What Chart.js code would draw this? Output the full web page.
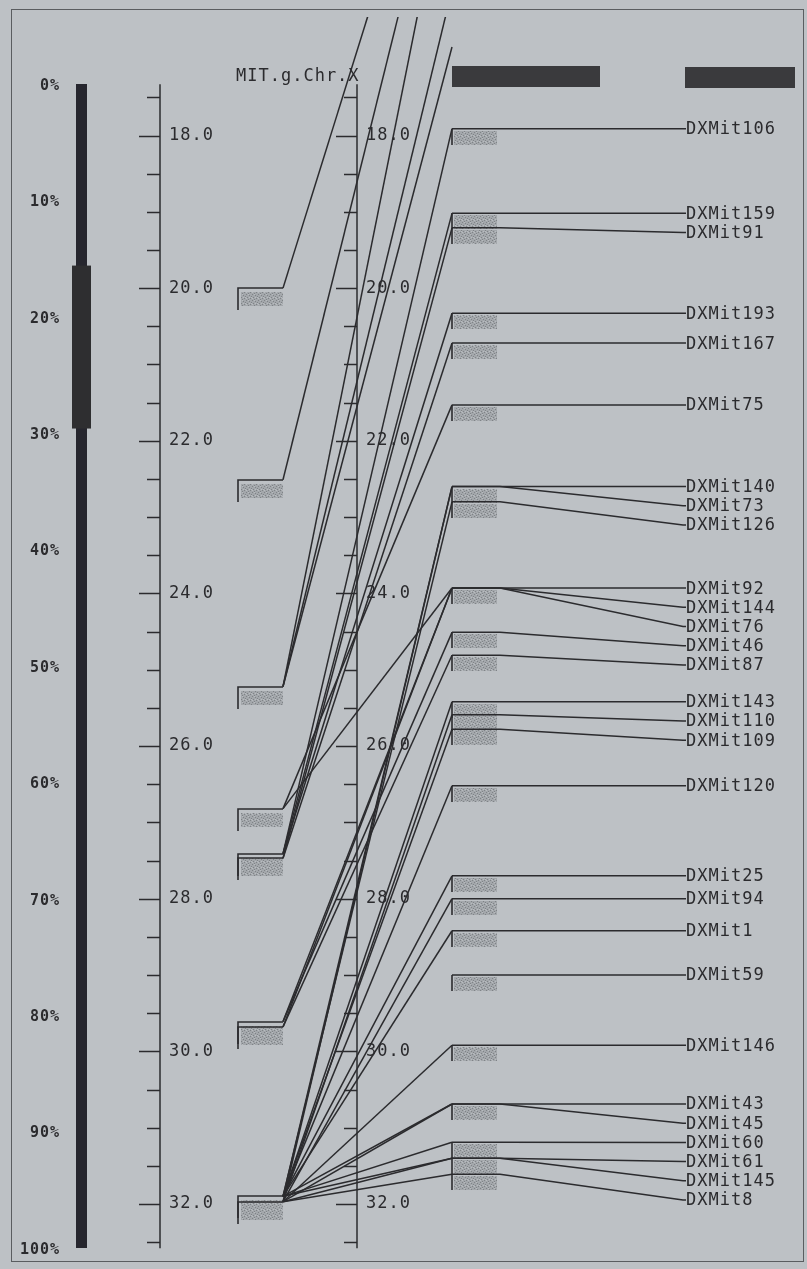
<!DOCTYPE html>
<html><head><meta charset="utf-8">
<script src="https://cdn.jsdelivr.net/npm/chart.js@4.4.0/dist/chart.umd.min.js"></script>
<style>html,body{margin:0;padding:0;background:#bdc1c5;}#wrap{width:807px;height:1269px;}</style>
</head><body><div id="wrap"><canvas id="c" width="807" height="1269"></canvas></div>
<script>
// ---------------- DATA ----------------
const mapTitle = 'MIT.g.Chr.X';
const markerNames = ['DXMit106','DXMit159','DXMit91','DXMit193','DXMit167','DXMit75','DXMit140','DXMit73','DXMit126',
  'DXMit92','DXMit144','DXMit76','DXMit46','DXMit87','DXMit143','DXMit110','DXMit109','DXMit120','DXMit25','DXMit94',
  'DXMit1','DXMit59','DXMit146','DXMit43','DXMit45','DXMit60','DXMit61','DXMit145','DXMit8'];
// position on the MIT map (right column), cM
const rightPos = [17.91,19.02,19.21,20.33,20.72,21.53,22.60,22.60,22.80,
  23.93,23.93,23.93,24.51,24.81,25.42,25.59,25.78,26.52,27.70,28.00,
  28.42,29.00,29.92,30.69,30.69,31.19,31.40,31.40,31.61];
// position of the same marker on the left map, cM (null = not placed)
const leftPos = [27.41,27.41,27.47,27.41,27.47,26.82,31.90,31.97,31.90,
  26.82,29.61,29.68,29.61,29.68,31.90,31.97,31.90,31.90,31.90,31.97,
  31.90,null,31.97,31.90,31.97,31.90,31.97,31.90,31.97];
// markers of the left map that lie above the shown part of the MIT map
const offLeftPos  = [20.00,22.51,25.22,25.22,25.22];
const offRightPos = [12.90,13.60,14.17,16.09,16.84];
const cmTickValues = [17.5,18.0,18.5,19.0,19.5,20.0,20.5,21.0,21.5,22.0,22.5,23.0,23.5,24.0,24.5,25.0,
  25.5,26.0,26.5,27.0,27.5,28.0,28.5,29.0,29.5,30.0,30.5,31.0,31.5,32.0,32.5];
const cmLabelValues = [18,20,22,24,26,28,30,32];
const cmAxisRange = [17.33,32.58];
const pctLabels = [0,10,20,30,40,50,60,70,80,90,100];
const pctShownRange = [15.6,29.6];

// ---------------- LAYOUT ----------------
const L = {
  pctBar: 81, pctLabelRight: 60,
  leftAxis: 160, leftBoxL: 238, leftBoxR: 283,
  rightAxis: 357, rightBoxL: 452, rightBoxR: 497,
  bend: 500, labelEnd: 683, labelText: 686,
  head1: [452,600], head2: [685,795],
  labelGapPx: 19.2
};
const INK = '#2b2b2e';
const FONT = '17px "DejaVu Sans Mono", "Liberation Mono", monospace';

// pixel spacing -> cM spacing (scale is 76.32 px per cM)
const gapCm = L.labelGapPx / 76.32;
const labelVals = [];
rightPos.forEach((r, i) => {
  labelVals.push(i === 0 ? r : Math.max(r, labelVals[i - 1] + gapCm));
});

const datasets = [];
// connections left map -> MIT map
markerNames.forEach((n, i) => {
  if (leftPos[i] === null) return;
  datasets.push({ data: [{x: L.leftBoxR, y: leftPos[i]}, {x: L.rightBoxL, y: rightPos[i]}] });
});
offLeftPos.forEach((l, i) => {
  datasets.push({ data: [{x: L.leftBoxR, y: l}, {x: L.rightBoxL, y: offRightPos[i]}] });
});
// label leaders
markerNames.forEach((n, i) => {
  datasets.push({ data: [{x: L.rightBoxL, y: rightPos[i]}, {x: L.bend, y: rightPos[i]},
    {x: L.labelEnd, y: labelVals[i]}, {x: L.labelText, y: labelVals[i]}] });
});
datasets.forEach(d => Object.assign(d, {
  type: 'line', borderColor: INK, borderWidth: 1.5, pointRadius: 0, tension: 0,
  yAxisID: 'cm', xAxisID: 'x', fill: false
}));

// stipple pattern for bins
function makePattern(ctx) {
  const c = document.createElement('canvas'); c.width = 6; c.height = 6;
  const g = c.getContext('2d');
  g.fillStyle = '#a3a7ab'; g.fillRect(0, 0, 6, 6);
  g.fillStyle = '#7f8387';
  [[0,0],[3,1],[1,3],[4,4],[5,2],[2,5]].forEach(p => g.fillRect(p[0], p[1], 1, 1));
  g.fillStyle = '#b8bcc0';
  [[2,0],[5,3],[0,4],[3,3]].forEach(p => g.fillRect(p[0], p[1], 1, 1));
  return ctx.createPattern(c, 'repeat');
}

const mapPlugin = {
  id: 'mapPlugin',
  beforeDraw(chart) {
    const ctx = chart.ctx;
    ctx.save();
    ctx.fillStyle = '#bdc1c5';
    ctx.fillRect(0, 0, chart.width, chart.height);
    ctx.strokeStyle = '#5a5d60'; ctx.lineWidth = 1;
    ctx.strokeRect(11.5, 9.5, 792, 1252);
    ctx.restore();
  },
  beforeDatasetsDraw(chart) {
    const ctx = chart.ctx, xs = chart.scales.x, ys = chart.scales.cm, ps = chart.scales.pct;
    const X = v => xs.getPixelForValue(v), Y = v => ys.getPixelForValue(v), P = v => ps.getPixelForValue(v);
    ctx.save();
    // percent bar
    const bx = X(L.pctBar);
    ctx.fillStyle = '#26262e';
    ctx.fillRect(bx - 5, P(0), 11, P(100) - P(0));
    ctx.fillStyle = '#2e2e30';
    ctx.fillRect(bx - 9, P(pctShownRange[0]), 19, P(pctShownRange[1]) - P(pctShownRange[0]));
    // axes
    ctx.strokeStyle = INK; ctx.lineWidth = 1.5;
    [L.leftAxis, L.rightAxis].forEach(ax => {
      const x = X(ax);
      ctx.beginPath(); ctx.moveTo(x, Y(cmAxisRange[0])); ctx.lineTo(x, Y(cmAxisRange[1])); ctx.stroke();
      cmTickValues.forEach(t => {
        const major = cmLabelValues.includes(t);
        const y = Math.round(Y(t)) + 0.5;
        ctx.beginPath(); ctx.moveTo(x, y); ctx.lineTo(x - (major ? 21 : 13), y); ctx.stroke();
      });
    });
    // header bars
    ctx.fillStyle = '#3a3a3d';
    ctx.fillRect(X(L.head1[0]), 66, X(L.head1[1]) - X(L.head1[0]), 21);
    ctx.fillRect(X(L.head2[0]), 67, X(L.head2[1]) - X(L.head2[0]), 21);
    // bins
    const pat = makePattern(ctx);
    const leftBins = [...new Set(leftPos.filter(v => v !== null).concat(offLeftPos))];
    leftBins.forEach(v => {
      const y = Math.round(Y(v));
      ctx.fillStyle = pat;
      ctx.fillRect(X(L.leftBoxL) + 3, y + 4, X(L.leftBoxR) - X(L.leftBoxL) - 3, 14);
      ctx.strokeStyle = INK; ctx.lineWidth = 1.6;
      ctx.beginPath(); ctx.moveTo(X(L.leftBoxL), y + 22); ctx.lineTo(X(L.leftBoxL), y); ctx.lineTo(X(L.leftBoxR), y); ctx.stroke();
    });
    const rightBins = [...new Set(rightPos)];
    rightBins.forEach(v => {
      const y = Math.round(Y(v));
      ctx.fillStyle = pat;
      ctx.fillRect(X(L.rightBoxL) + 2, y + 2, X(L.rightBoxR) - X(L.rightBoxL) - 2, 14);
      ctx.strokeStyle = INK; ctx.lineWidth = 1.6;
      ctx.beginPath(); ctx.moveTo(X(L.rightBoxL), y); ctx.lineTo(X(L.rightBoxL), y + 16); ctx.stroke();
    });
    ctx.restore();
  },
  afterDatasetsDraw(chart) {
    const ctx = chart.ctx, xs = chart.scales.x, ys = chart.scales.cm, ps = chart.scales.pct;
    const X = v => xs.getPixelForValue(v), Y = v => ys.getPixelForValue(v), P = v => ps.getPixelForValue(v);
    ctx.save();
    ctx.fillStyle = INK; ctx.font = FONT; ctx.textBaseline = 'middle';
    try { ctx.letterSpacing = '1px'; } catch (e) {}
    ctx.textAlign = 'left';
    cmLabelValues.forEach(v => {
      const t = v.toFixed(1);
      ctx.fillText(t, X(L.leftAxis) + 9, Y(v));
      ctx.fillText(t, X(L.rightAxis) + 9, Y(v));
    });
    ctx.fillText(mapTitle, X(236), 77);
    markerNames.forEach((n, i) => ctx.fillText(n, X(L.labelText), Y(labelVals[i]) + 1));
    ctx.font = 'bold 15px "DejaVu Sans Mono", monospace';
    ctx.textAlign = 'right';
    pctLabels.forEach(p => ctx.fillText(p + '%', X(L.pctLabelRight), P(p) + 2));
    ctx.restore();
  }
};

new Chart(document.getElementById('c'), {
  type: 'line',
  data: { datasets },
  options: {
    responsive: false, animation: false, devicePixelRatio: 1, events: [],
    layout: { padding: { top: 17, bottom: 7, left: 0, right: 0 } },
    plugins: { legend: { display: false }, tooltip: { enabled: false } },
    scales: {
      x: { type: 'linear', min: 0, max: 807, display: false },
      cm: { type: 'linear', axis: 'y', reverse: true, min: 16.4473, max: 32.7602, display: false },
      pct: { type: 'linear', axis: 'y', reverse: true, min: -5.756, max: 101.203, display: false }
    }
  },
  plugins: [mapPlugin]
});
</script></body></html>
